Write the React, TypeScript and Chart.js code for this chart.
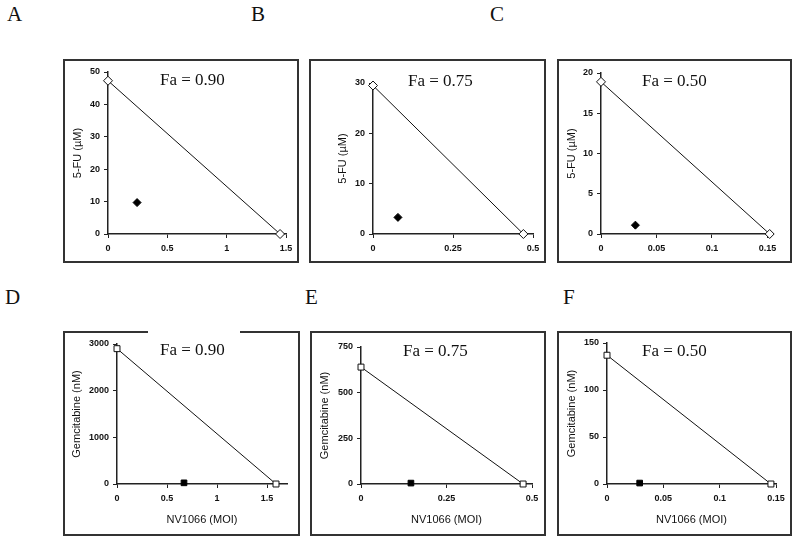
import React, { useEffect, useRef } from "react";
import { Chart, registerables } from "chart.js";
Chart.register(...registerables);

// ---- data ----
const panelLetters = ["A", "B", "C", "D", "E", "F"];
const faLabels = ["Fa = 0.90", "Fa = 0.75", "Fa = 0.50", "Fa = 0.90", "Fa = 0.75", "Fa = 0.50"];
const yTitles = ["5-FU (µM)", "5-FU (µM)", "5-FU (µM)", "Gemcitabine (nM)", "Gemcitabine (nM)", "Gemcitabine (nM)"];
const xTitles = ["", "", "", "NV1066 (MOI)", "NV1066 (MOI)", "NV1066 (MOI)"];
// isobole end points: NV1066 alone (x-intercept), drug alone (y-intercept)
const nvAlone = [1.45, 0.47, 0.152, 1.59, 0.474, 0.1455];
const drugAlone = [47.3, 29.5, 18.9, 2900, 640, 137];
// combination points
const comboNV = [0.245, 0.078, 0.031, 0.67, 0.146, 0.029];
const comboDrug = [9.7, 3.3, 1.1, 25, 5, 1];
// axes
const xTicks = [
  [0, 0.5, 1, 1.5],
  [0, 0.25, 0.5],
  [0, 0.05, 0.1, 0.15],
  [0, 0.5, 1, 1.5],
  [0, 0.25, 0.5],
  [0, 0.05, 0.1, 0.15],
];
const xMax = [1.5, 0.5, 0.155, 1.7, 0.5, 0.15];
const yTicks = [
  [0, 10, 20, 30, 40, 50],
  [0, 10, 20, 30],
  [0, 5, 10, 15, 20],
  [0, 1000, 2000, 3000],
  [0, 250, 500, 750],
  [0, 50, 100, 150],
];

// ---- layout (styling only) ----
const boxes = [
  { box: [63, 59, 299, 263], plot: [108, 72, 286, 234], yTitleX: 15, fa: [97, 22] },
  { box: [309, 59, 546, 263], plot: [373, 83, 533, 234], yTitleX: 34, fa: [99, 23] },
  { box: [557, 59, 792, 263], plot: [601, 73, 773, 234], yTitleX: 15, fa: [85, 23] },
  { box: [63, 331, 300, 536], plot: [117, 344, 287, 484], yTitleX: 14, fa: [97, 20] },
  { box: [310, 331, 546, 536], plot: [361, 347, 532, 484], yTitleX: 15, fa: [93, 21] },
  { box: [557, 331, 792, 536], plot: [607, 343, 776, 484], yTitleX: 15, fa: [85, 21] },
];
const letterPos = [
  [7, 4], [251, 4], [490, 4], [5, 287], [305, 287], [563, 287],
];

const faPlugin = {
  id: "faLabel",
  afterDraw(chart: any, _args: any, opts: any) {
    const ctx = chart.ctx;
    ctx.save();
    ctx.font = '17px "Liberation Serif"';
    ctx.fillStyle = "#111";
    ctx.textBaseline = "middle";
    ctx.textAlign = "left";
    ctx.fillText(opts.text, opts.x, opts.y);
    ctx.restore();
  },
};

function Panel({ i }: { i: number }) {
  const ref = useRef<HTMLCanvasElement>(null);
  const L = boxes[i];
  const [bl, bt, br, bb] = L.box;
  const [pl, pt, pr, pb] = L.plot;
  const W = br - bl;
  const H = bb - bt;
  const top = i < 3;
  useEffect(() => {
    const tickFont = { family: '"Liberation Sans", Arial', size: 9, weight: "bold" as const };
    const titleFont = { family: '"Liberation Sans", Arial', size: 11, lineHeight: 1.2 };
    const chart = new Chart(ref.current as HTMLCanvasElement, {
      type: "scatter",
      data: {
        datasets: [
          {
            data: [
              { x: 0, y: drugAlone[i] },
              { x: nvAlone[i], y: 0 },
            ],
            showLine: true,
            borderColor: "#111",
            borderWidth: 1,
            pointStyle: top ? "rectRot" : "rect",
            pointRadius: top ? 4.5 : 4.2,
            pointBackgroundColor: "#fff",
            pointBorderColor: "#111",
            pointBorderWidth: 1,
            clip: false as any,
          },
          {
            data: [{ x: comboNV[i], y: comboDrug[i] }],
            showLine: false,
            pointStyle: top ? "rectRot" : "rect",
            pointRadius: top ? 4 : 4,
            pointBackgroundColor: "#000",
            pointBorderColor: "#000",
            pointBorderWidth: 1,
            clip: false as any,
          },
        ],
      },
      options: {
        animation: false,
        responsive: false,
        maintainAspectRatio: false,
        layout: { padding: { left: 0, top: pt - bt, right: br - pr, bottom: 0 } },
        plugins: {
          legend: { display: false },
          tooltip: { enabled: false },
          faLabel: { text: faLabels[i], x: L.fa[0], y: L.fa[1] },
        } as any,
        scales: {
          x: {
            type: "linear",
            min: 0,
            max: xMax[i],
            afterBuildTicks: (s: any) => {
              s.ticks = xTicks[i].map((v) => ({ value: v }));
            },
            afterFit: (s: any) => {
              s.height = bb - pb;
            },
            ticks: {
              font: tickFont,
              color: "#111",
              padding: 5,
              maxRotation: 0,
              autoSkip: false,
              callback: (v: any) => String(v),
            },
            grid: { drawOnChartArea: false, drawTicks: true, tickLength: 4, color: "#222", lineWidth: 1 },
            border: { display: true, color: "#222", width: 1.5 },
            title: {
              display: !top,
              text: xTitles[i],
              font: titleFont,
              color: "#111",
              padding: { top: 0, bottom: 9 },
            },
          },
          y: {
            type: "linear",
            min: 0,
            max: yTicks[i][yTicks[i].length - 1],
            afterBuildTicks: (s: any) => {
              s.ticks = yTicks[i].map((v) => ({ value: v }));
            },
            afterFit: (s: any) => {
              s.width = pl - bl;
            },
            ticks: {
              font: tickFont,
              color: "#111",
              padding: 4,
              autoSkip: false,
              callback: (v: any) => String(v),
            },
            grid: { drawOnChartArea: false, drawTicks: true, tickLength: 4, color: "#222", lineWidth: 1 },
            border: { display: true, color: "#222", width: 1.5 },
            title: {
              display: true,
              text: yTitles[i],
              font: titleFont,
              color: "#111",
              padding: { top: L.yTitleX - 6.6, bottom: 0 },
            },
          },
        },
      },
      plugins: [faPlugin as any],
    });
    return () => chart.destroy();
  }, [i]);
  return (
    <>
      <canvas
        ref={ref}
        width={W}
        height={H}
        style={{ position: "absolute", left: bl, top: bt, width: W, height: H }}
      />
      <div
        style={{
          position: "absolute",
          left: bl,
          top: bt,
          width: W,
          height: H,
          boxSizing: "border-box",
          border: "2px solid #333",
          pointerEvents: "none",
        }}
      />
    </>
  );
}

export default function App() {
  return (
    <div
      style={{
        position: "absolute",
        left: 0,
        top: 0,
        width: 800,
        height: 542,
        background: "#fff",
        overflow: "hidden",
      }}
    >
      {panelLetters.map((l, i) => (
        <div
          key={l}
          style={{
            position: "absolute",
            left: letterPos[i][0],
            top: letterPos[i][1],
            font: '21px "Liberation Serif"',
            lineHeight: "21px",
            color: "#111",
          }}
        >
          {l}
        </div>
      ))}
      {panelLetters.map((l, i) => (
        <Panel key={"p" + l} i={i} />
      ))}
      <div
        style={{ position: "absolute", left: 148, top: 328, width: 92, height: 6, background: "#fff" }}
      />
    </div>
  );
}
